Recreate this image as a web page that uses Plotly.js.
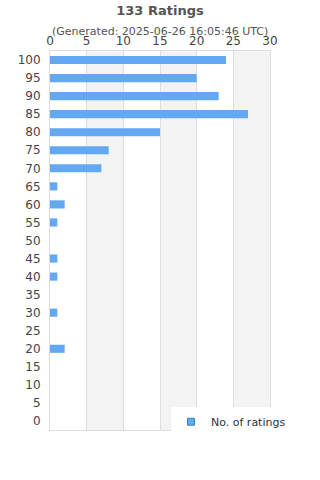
<!DOCTYPE html>
<html><head><meta charset="utf-8">
<script src="https://cdn.plot.ly/plotly-3.0.1.min.js"></script>
<style>html,body{margin:0;padding:0;background:#fff}#c{width:320px;height:480px}</style>
</head><body><div id="c"></div>
<script>
const categories = ['0','5','10','15','20','25','30','35','40','45','50','55','60','65','70','75','80','85','90','95','100'];
const ratings = [0,0,0,0,2,0,1,0,1,1,0,1,2,1,7,8,15,27,23,20,24];
const xTicks = [0,5,10,15,20,25,30];
const bands = [[5,10],[15,20],[25,30]];
const seriesName = 'No. of ratings';

const shapes = bands.map(b => ({type:'rect', xref:'x', yref:'paper', x0:b[0], x1:b[1], y0:0, y1:1, fillcolor:'#f3f3f3', line:{width:0}, layer:'below'}));

Plotly.newPlot('c', [{
  type:'bar', orientation:'h', x:ratings, y:categories, name:seriesName,
  marker:{color:'#62a8f3'}, showlegend:false, legendgroup:'r'
},{
  type:'scatter', mode:'markers', x:[null], y:[null], name:seriesName, legendgroup:'r',
  marker:{symbol:'square', size:7, color:'#62a8f3', line:{color:'#3f7fc6', width:1}}
}], {
  width:320, height:480,
  margin:{l:50, r:50, t:51, b:50},
  paper_bgcolor:'#fff', plot_bgcolor:'#fff',
  font:{family:'DejaVu Sans', color:'#444', size:11},
  title:{text:'<b>133 Ratings</b>', x:0.5, xanchor:'center', y:0.978, yanchor:'middle', font:{size:13, color:'#555'}},
  annotations:[{text:'(Generated: 2025-06-26 16:05:46 UTC)', xref:'paper', yref:'paper', x:0.5, y:1, yshift:20, xanchor:'center', yanchor:'middle', showarrow:false, font:{size:11, color:'#555'}}],
  bargap:0.55,
  shapes:shapes,
  xaxis:{side:'top', range:[0,30], tickvals:xTicks, ticktext:xTicks.map(String), showgrid:true, gridcolor:'#ddd', showline:true, mirror:true, linecolor:'#ddd', zeroline:false, ticks:'', tickfont:{size:12, color:'#444'}},
  yaxis:{type:'category', categoryorder:'array', categoryarray:categories, showgrid:false, showline:true, mirror:true, linecolor:'#ddd', ticks:'outside', ticklen:6, tickcolor:'rgba(0,0,0,0)', tickfont:{size:12, color:'#444'}, automargin:false},
  showlegend:true,
  legend:{x:0.55, xanchor:'left', y:0.06, yanchor:'top', bgcolor:'#fff', itemwidth:30, font:{size:11, color:'#333'}}
}, {displayModeBar:false, staticPlot:true});
</script></body></html>
